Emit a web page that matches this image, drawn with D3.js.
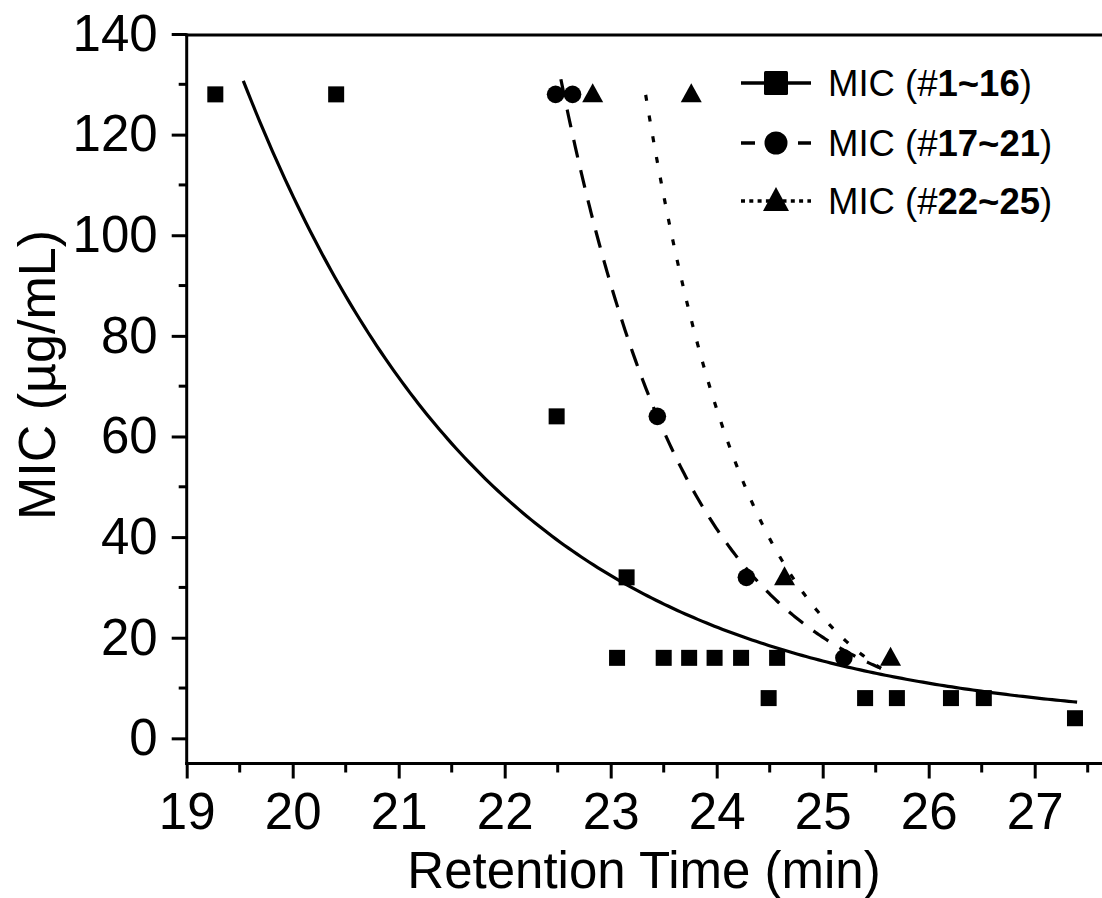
<!DOCTYPE html>
<html>
<head>
<meta charset="utf-8">
<script src="https://cdn.jsdelivr.net/npm/d3@7"></script>
<style>
  html, body { margin: 0; padding: 0; background: #fff; }
  svg { display: block; }
  text { font-family: "Liberation Sans", Arial, Helvetica, sans-serif; fill: #000; }
</style>
</head>
<body>
<svg id="chart" width="1102" height="898"></svg>
<script>
// Measured MIC values vs. HPLC retention time, three compound groups
const groupNames = ["1~16", "17~21", "22~25"];

const rtGroup1  = [19.27, 20.41, 22.49, 23.15, 23.06, 23.50, 23.74, 23.98, 24.23, 24.57, 24.49, 25.40, 25.70, 26.21, 26.52, 27.38];
const micGroup1 = [128,   128,   64,    32,    16,    16,    16,    16,    16,    16,    8,     8,     8,     8,     8,     4];

const rtGroup2  = [22.48, 22.64, 23.44, 24.28, 25.20];
const micGroup2 = [128,   128,   64,    32,    16];

const rtGroup3  = [22.83, 23.76, 24.64, 25.64];
const micGroup3 = [128,   128,   32,    16];

// Exponential decay fits: y = y0 + A * exp(-(x - x0) / t), drawn over [xStart, xEnd]
const fitGroup1 = { x0: 19.534, A: 128.2, t: 2.379, y0: 2.5, xStart: 19.534, xEnd: 27.40 };
const fitGroup2 = { x0: 22.53,  A: 128.0, t: 1.227, y0: 3.0, xStart: 22.53,  xEnd: 25.55 };
const fitGroup3 = { x0: 23.33,  A: 127.9, t: 1.000, y0: 0.0, xStart: 23.33,  xEnd: 25.55 };

const xTicks = [19, 20, 21, 22, 23, 24, 25, 26, 27];
const xMinorTicks = [19.5, 20.5, 21.5, 22.5, 23.5, 24.5, 25.5, 26.5, 27.5];
const yTicks = [0, 20, 40, 60, 80, 100, 120, 140];
const yMinorTicks = [10, 30, 50, 70, 90, 110, 130];

const svg = d3.select("#chart");

const x = d3.scaleLinear().domain([19, 27.7]).range([186.7, 186.7 + 8.7 * 106]);
const y = d3.scaleLinear().domain([-5, 140]).range([763.5, 34]);

const AXIS_W = 3;
const plotLeft = x.range()[0], plotRight = 1102, plotTop = 35, plotBottom = y.range()[0];

// ---- axes ----
const axes = svg.append("g");

// bottom axis
const xAxis = d3.axisBottom(x).tickValues(xTicks).tickSize(15).tickSizeOuter(0).tickPadding(14)
  .tickFormat(d3.format("d"));
const gx = axes.append("g").attr("transform", `translate(0,${plotBottom})`).call(xAxis);
gx.append("g").selectAll("line").data(xMinorTicks).join("line")
  .attr("x1", d => x(d)).attr("x2", d => x(d)).attr("y1", 0).attr("y2", 9);
gx.select(".domain").remove();
gx.append("line").attr("x1", plotLeft - 1.5).attr("x2", plotRight + 10).attr("y1", 0).attr("y2", 0);

// left axis
const yAxis = d3.axisLeft(y).tickValues(yTicks).tickSize(15).tickSizeOuter(0).tickPadding(14)
  .tickFormat(d3.format("d"));
const gy = axes.append("g").attr("transform", `translate(${plotLeft},0)`).call(yAxis);
gy.append("g").selectAll("line").data(yMinorTicks).join("line")
  .attr("x1", 0).attr("x2", -8).attr("y1", d => y(d)).attr("y2", d => y(d));
gy.select(".domain").remove();
gy.append("line").attr("x1", 0).attr("x2", 0).attr("y1", plotTop - 1.5).attr("y2", plotBottom + 1.5);

// top frame line
axes.append("line").attr("x1", plotLeft - 1.5).attr("x2", plotRight + 10)
  .attr("y1", plotTop).attr("y2", plotTop);

axes.selectAll("line").attr("stroke", "#000").attr("stroke-width", AXIS_W);
axes.selectAll(".tick text").attr("font-size", 51).attr("fill", "#000")
  .style("font-family", '"Liberation Sans", Arial, sans-serif');
gx.selectAll(".tick text").attr("dy", "0.71em");

// axis titles
svg.append("text").attr("x", 644).attr("y", 888).attr("text-anchor", "middle")
  .attr("font-size", 51).text("Retention Time (min)");
svg.append("text").attr("transform", "translate(55,375) rotate(-90)").attr("text-anchor", "middle")
  .attr("font-size", 52).text("MIC (µg/mL)");

// ---- fit curves ----
const line = d3.line().x(d => x(d[0])).y(d => y(d[1]));
function fitPoints(f) {
  const n = 200, pts = [];
  for (let i = 0; i <= n; i++) {
    const xv = f.xStart + (f.xEnd - f.xStart) * i / n;
    pts.push([xv, f.y0 + f.A * Math.exp(-(xv - f.x0) / f.t)]);
  }
  return pts;
}
const curves = svg.append("g").attr("fill", "none").attr("stroke", "#000").attr("stroke-width", 3.2);
curves.append("path").attr("d", line(fitPoints(fitGroup1)));
curves.append("path").attr("d", line(fitPoints(fitGroup2))).attr("stroke-dasharray", "18,13");
curves.append("path").attr("d", line(fitPoints(fitGroup3))).attr("stroke-dasharray", "6,15");

// ---- markers ----
function trianglePath(w, h) {
  return `M0,${-h * 0.58}L${w / 2},${h * 0.42}L${-w / 2},${h * 0.42}Z`;
}
const marks = svg.append("g").attr("fill", "#000");
marks.selectAll("rect.g1").data(d3.zip(rtGroup1, micGroup1)).join("rect")
  .attr("class", "g1")
  .attr("x", d => x(d[0]) - 8).attr("y", d => y(d[1]) - 8).attr("width", 16).attr("height", 16);
marks.selectAll("circle.g2").data(d3.zip(rtGroup2, micGroup2)).join("circle")
  .attr("class", "g2")
  .attr("cx", d => x(d[0])).attr("cy", d => y(d[1])).attr("r", 8.8);
marks.selectAll("path.g3").data(d3.zip(rtGroup3, micGroup3)).join("path")
  .attr("class", "g3")
  .attr("transform", d => `translate(${x(d[0])},${y(d[1])})`)
  .attr("d", trianglePath(21, 19));

// ---- legend ----
const legend = svg.append("g");
const rows = [83, 143, 201];
const lx1 = 741, lx2 = 811, lmid = 776;

// row 1: solid line + square
legend.append("line").attr("x1", lx1).attr("x2", lx2).attr("y1", rows[0]).attr("y2", rows[0])
  .attr("stroke", "#000").attr("stroke-width", 3.5);
legend.append("rect").attr("x", lmid - 12).attr("y", rows[0] - 12).attr("width", 24).attr("height", 24)
  .attr("rx", 1.5).attr("fill", "#000");

// row 2: dashes + circle
legend.append("line").attr("x1", lx1).attr("x2", 755).attr("y1", rows[1]).attr("y2", rows[1])
  .attr("stroke", "#000").attr("stroke-width", 3.5);
legend.append("line").attr("x1", 798).attr("x2", lx2).attr("y1", rows[1]).attr("y2", rows[1])
  .attr("stroke", "#000").attr("stroke-width", 3.5);
legend.append("circle").attr("cx", lmid).attr("cy", rows[1]).attr("r", 11.5).attr("fill", "#000");

// row 3: dots + triangle
legend.append("line").attr("x1", lx1).attr("x2", lx2).attr("y1", rows[2]).attr("y2", rows[2])
  .attr("stroke", "#000").attr("stroke-width", 3.5).attr("stroke-dasharray", "4,4.3");
legend.append("path").attr("transform", `translate(${lmid},${rows[2]})`)
  .attr("d", trianglePath(26, 24)).attr("fill", "#000");

groupNames.forEach((name, i) => {
  const t = legend.append("text").attr("x", 828).attr("y", rows[i] + 13).attr("font-size", 36.5);
  t.append("tspan").text("MIC (#");
  t.append("tspan").attr("font-weight", "bold").text(name);
  t.append("tspan").text(")");
});
</script>
</body>
</html>
